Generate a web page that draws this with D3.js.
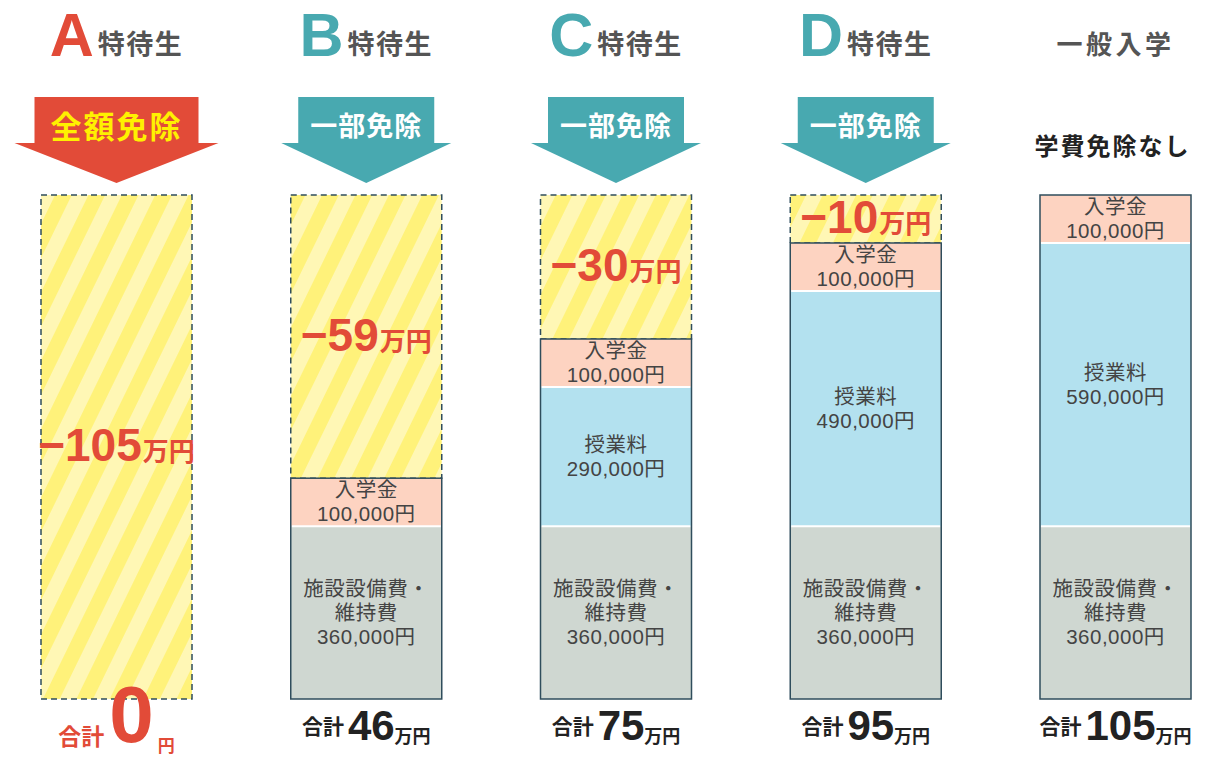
<!DOCTYPE html>
<html><head><meta charset="utf-8">
<script src="https://cdn.jsdelivr.net/npm/d3@7"></script>
<style>body{margin:0;background:#fff} svg{display:block}</style>
</head><body>
<svg id="chart" width="1211" height="759"></svg>
<script>
// ---- data (amounts in 万円) ----
const columns = ["A", "B", "C", "D", "一般"];
const headerLetters = ["A", "B", "C", "D", ""];
const headerTitles = ["特待生", "特待生", "特待生", "特待生", "一般入学"];
const exemptionLabels = ["全額免除", "一部免除", "一部免除", "一部免除", "学費免除なし"];
const feeKeys = ["facility", "tuition", "enrollment"];
const feeNames = [["施設設備費・", "維持費"], ["授業料"], ["入学金"]];
const facilityFee = [0, 36, 36, 36, 36];
const tuitionFee = [0, 0, 29, 49, 59];
const enrollmentFee = [0, 10, 10, 10, 10];
const discount = [105, 59, 30, 10, 0];
const totals = [0, 46, 75, 95, 105];

// ---- styles ----
const RED = "#E24B38", TEAL = "#48A9B0", DARK = "#2F4D5C", TXT = "#444";
const segColors = { facility: "#CFD7D1", tuition: "#B3E1EF", enrollment: "#FDD3C1" };
const CJK = "'Noto Sans CJK JP','Noto Sans',sans-serif";
const MIX = "'Liberation Sans','Noto Sans CJK JP',sans-serif";
const LAT = "'Liberation Sans',Arial,sans-serif";

const rows = columns.map((c, i) => ({
  col: c, i,
  facility: facilityFee[i], tuition: tuitionFee[i], enrollment: enrollmentFee[i],
  discount: discount[i]
}));

const svg = d3.select("#chart");
const x = d3.scalePoint().domain(columns).range([116.5, 1115.5]);
const y = d3.scaleLinear().domain([0, 105]).range([699, 195]);
const barW = 151;

const defs = svg.append("defs");
const pat = defs.append("pattern").attr("id", "stripes")
  .attr("patternUnits", "userSpaceOnUse").attr("width", 30).attr("height", 30)
  .attr("patternTransform", "rotate(26)");
pat.append("rect").attr("width", 30).attr("height", 30).attr("fill", "#FFF27A");
pat.append("rect").attr("width", 15).attr("height", 30).attr("fill", "#FFF7B5");

const stack = d3.stack().keys([...feeKeys, "discount"]);
const series = stack(rows);

// ---- headers ----
rows.forEach(r => {
  const t = svg.append("text").attr("x", x(r.col)).attr("y", 56)
    .attr("text-anchor", "middle").attr("font-weight", "bold");
  if (headerLetters[r.i]) {
    t.append("tspan").text(headerLetters[r.i]).attr("font-family", LAT)
      .attr("font-size", 61).attr("fill", r.i === 0 ? RED : TEAL);
    t.append("tspan").text(headerTitles[r.i]).attr("dx", 4).attr("dy", -2).attr("font-family", CJK)
      .attr("font-size", 27).attr("fill", "#555").attr("letter-spacing", 1.5);
  } else {
    t.append("tspan").text(headerTitles[r.i]).attr("dy", -2).attr("font-family", CJK)
      .attr("font-size", 26).attr("fill", "#555").attr("letter-spacing", 3.5);
  }
});

// ---- arrows / exemption labels ----
rows.forEach(r => {
  const cx = x(r.col);
  const full = totals[r.i] === 0;
  if (r.discount > 0) {
    const rh = full ? 82 : 68, th = full ? 102 : 85;
    const p = d3.path();
    p.moveTo(cx - rh, 97); p.lineTo(cx + rh, 97); p.lineTo(cx + rh, 143);
    p.lineTo(cx + th, 143); p.lineTo(cx, 183); p.lineTo(cx - th, 143);
    p.lineTo(cx - rh, 143); p.closePath();
    svg.append("path").attr("d", p.toString()).attr("fill", full ? RED : TEAL);
    svg.append("text").attr("x", cx).attr("y", full ? 138 : 136)
      .attr("text-anchor", "middle").attr("font-family", CJK).attr("font-weight", "bold")
      .attr("font-size", full ? 31 : 27).attr("letter-spacing", full ? 2 : 1)
      .attr("fill", full ? "#FFF100" : "#fff").text(exemptionLabels[r.i]);
  } else {
    svg.append("text").attr("x", cx - 3).attr("y", 155)
      .attr("text-anchor", "middle").attr("font-family", CJK).attr("font-weight", "bold")
      .attr("font-size", 24).attr("letter-spacing", 2)
      .attr("fill", "#222").text(exemptionLabels[r.i]);
  }
});

// ---- discount (striped) ----
const discSeries = series.find(s => s.key === "discount");
discSeries.forEach(d => {
  if (d.data.discount <= 0) return;
  const cx = x(d.data.col);
  svg.append("rect").attr("x", cx - barW / 2).attr("y", y(d[1]))
    .attr("width", barW).attr("height", y(d[0]) - y(d[1]))
    .attr("fill", "url(#stripes)").attr("stroke", DARK).attr("stroke-width", 1.5)
    .attr("stroke-dasharray", "6,4");
  const cy = (y(d[0]) + y(d[1])) / 2;
  const t = svg.append("text").attr("x", cx).attr("y", cy + 14).attr("text-anchor", "middle")
    .attr("fill", RED).attr("font-weight", "bold");
  t.append("tspan").text("−" + d.data.discount).attr("font-family", LAT).attr("font-size", 46);
  t.append("tspan").text("万円").attr("font-family", MIX).attr("font-size", 26).attr("dx", 1);
});

// ---- fee segments ----
const fmt = d3.format(",");
feeKeys.forEach((k, ki) => {
  const s = series.find(ss => ss.key === k);
  s.forEach(d => {
    const v = d.data[k];
    if (v <= 0) return;
    const cx = x(d.data.col);
    svg.append("rect").attr("x", cx - barW / 2).attr("y", y(d[1]))
      .attr("width", barW).attr("height", y(d[0]) - y(d[1])).attr("fill", segColors[k]);
    const lines = [...feeNames[ki], fmt(v * 10000) + "円"];
    const cy = (y(d[0]) + y(d[1])) / 2;
    const lh = 24;
    const t = svg.append("text").attr("text-anchor", "middle").attr("font-family", MIX)
      .attr("font-size", 20.5).attr("fill", TXT).attr("letter-spacing", 0.5);
    lines.forEach((ln, li) => {
      t.append("tspan").attr("x", cx)
        .attr("y", cy - (lines.length - 1) * lh / 2 + li * lh + 7).text(ln);
    });
  });
});
// white separators between stacked segments
feeKeys.slice(0, -1).forEach(k => {
  const s = series.find(ss => ss.key === k);
  s.forEach(d => {
    const i = d.data.i;
    if (d.data[k] <= 0 || totals[i] <= d[1]) return;
    const cx = x(d.data.col);
    svg.append("line").attr("x1", cx - barW / 2 + 1).attr("x2", cx + barW / 2 - 1)
      .attr("y1", y(d[1])).attr("y2", y(d[1])).attr("stroke", "#fff").attr("stroke-width", 2);
  });
});
// solid outline of the payable part
rows.forEach(r => {
  if (totals[r.i] <= 0) return;
  const cx = x(r.col);
  svg.append("rect").attr("x", cx - barW / 2).attr("y", y(totals[r.i]))
    .attr("width", barW).attr("height", y(0) - y(totals[r.i]))
    .attr("fill", "none").attr("stroke", DARK).attr("stroke-width", 1.5);
});

// ---- totals ----
rows.forEach(r => {
  const cx = x(r.col);
  const v = totals[r.i];
  if (v === 0) {
    const t = svg.append("text").attr("x", cx).attr("y", 742).attr("text-anchor", "middle")
      .attr("fill", RED).attr("font-weight", "bold");
    t.append("tspan").text("合計").attr("font-family", MIX).attr("font-size", 23).attr("dy", 3);
    t.append("tspan").text(v).attr("font-family", LAT).attr("font-size", 80).attr("dy", -3).attr("dx", 5);
    t.append("tspan").text("円").attr("font-family", MIX).attr("font-size", 17).attr("dy", 10).attr("dx", 4);
  } else {
    const t = svg.append("text").attr("x", cx).attr("y", 740).attr("text-anchor", "middle")
      .attr("fill", "#222").attr("font-weight", "bold");
    t.append("tspan").text("合計").attr("font-family", MIX).attr("font-size", 21).attr("dy", -6);
    t.append("tspan").text(v).attr("font-family", LAT).attr("font-size", 42).attr("dy", 6).attr("dx", 4);
    t.append("tspan").text("万円").attr("font-family", MIX).attr("font-size", 18).attr("dy", 3);
  }
});
</script>
</body></html>
